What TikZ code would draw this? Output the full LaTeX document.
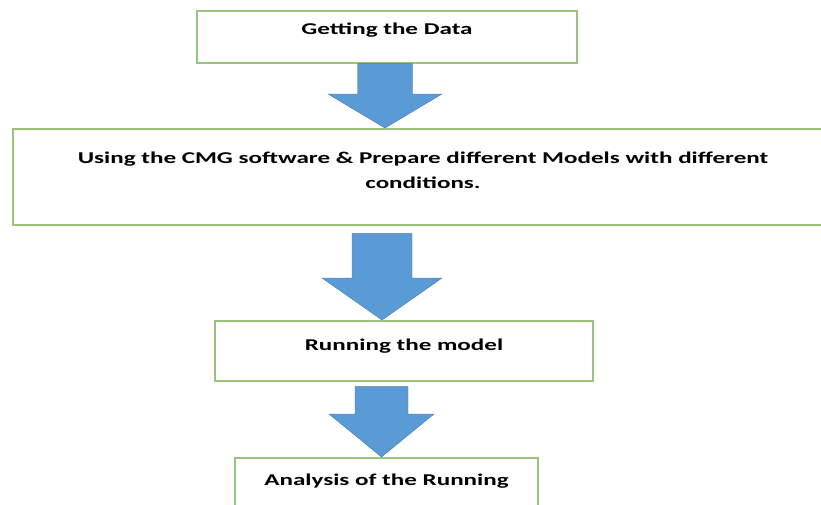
\documentclass[tikz,border=0pt]{standalone}
\usepackage{fontspec}
\setmainfont{Carlito}[FakeStretch=1.52]
\usetikzlibrary{calc}
\definecolor{boxgreen}{RGB}{155,195,125}
\definecolor{flowblue}{RGB}{91,155,213}
\definecolor{flowedge}{RGB}{70,120,170}

% block arrow: top point, tip point, half shaft width, half head width, head length
\newcommand{\flowarrow}[5]{%
  \filldraw[flow] ($(#1)+(-#3,0)$) -- ($(#1)+(#3,0)$) -- ($(#2)+(#3,-#5)$)
    -- ($(#2)+(#4,-#5)$) -- (#2) -- ($(#2)+(-#4,-#5)$) -- ($(#2)+(-#3,-#5)$) -- cycle;}

\begin{document}
\begin{tikzpicture}[x=1pt, y=-1pt,
    stage/.style={draw=boxgreen, line width=1.6pt, fill=white, inner sep=0pt,
      align=center, font=\bfseries\fontsize{16.5}{25}\selectfont},
    flow/.style={fill=flowblue, draw=flowedge, line width=0.4pt, line join=miter}]
  \useasboundingbox (0,0) rectangle (821,504);
  % the four stages
  \node[stage, anchor=north, minimum width=380, text height=23.5, text depth=28.5]
    (data) at (387,10) {Getting the Data};
  \node[stage, anchor=north, minimum width=820, text height=60, text depth=36]
    (models) at (423,128) {Using the CMG software \& Prepare different Models with different\\conditions.};
  \node[stage, anchor=north, minimum width=378, text height=30, text depth=30]
    (run) at (404,320) {Running the model};
  \node[stage, anchor=north, minimum width=303, text height=28, text depth=45]
    (analysis) at (386.5,457) {Analysis of the Running};
  % arrows between the stages
  \coordinate (a1top) at ($(data.south)+(-2,0)$);
  \coordinate (a1tip) at (a1top |- models.north);
  \coordinate (a2top) at ($(models.south)+(-41,8)$);
  \coordinate (a2tip) at (a2top |- run.north);
  \coordinate (a3top) at ($(run.south)+(-22.5,5)$);
  \coordinate (a3tip) at (a3top |- analysis.north);
  \flowarrow{a1top}{a1tip}{27.5}{57}{34}
  \flowarrow{a2top}{a2tip}{30}{60}{42}
  \flowarrow{a3top}{a3tip}{26.5}{52.5}{43}
\end{tikzpicture}
\end{document}
